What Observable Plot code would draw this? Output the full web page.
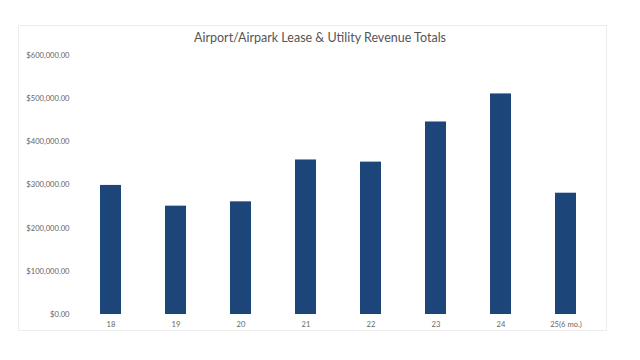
<!DOCTYPE html>
<html>
<head>
<meta charset="utf-8">
<script src="https://cdn.jsdelivr.net/npm/d3@7"></script>
<script src="https://cdn.jsdelivr.net/npm/@observablehq/plot@0.6"></script>
<style>
  html, body { margin: 0; padding: 0; background: #fff; }
  #wrap { position: relative; width: 640px; height: 360px; overflow: hidden; font-family: Lato, "Open Sans", sans-serif; }
  #frame { position: absolute; left: 18px; top: 25px; width: 589px; height: 306px; border: 1px solid #ececec; box-sizing: border-box; }
  #title { position: absolute; left: 0; width: 640px; top: 30px; text-align: center; font-size: 12.5px; color: #555; }
  #chart { position: absolute; left: 0; top: 45px; }
</style>
</head>
<body>
<div id="wrap">
  <div id="frame"></div>
  <div id="title">Airport/Airpark Lease &amp; Utility Revenue Totals</div>
  <div id="chart"></div>
</div>
<script>
const years = ["18", "19", "20", "21", "22", "23", "24", "25(6 mo.)"];
const revenue = [299000, 251000, 261000, 358000, 353000, 446000, 511000, 281000];
const yTicks = [0, 100000, 200000, 300000, 400000, 500000, 600000];

const data = years.map((y, i) => ({year: y, value: revenue[i]}));

const chart = Plot.plot({
  width: 640,
  height: 300,
  marginLeft: 78,
  marginRight: 42,
  marginTop: 10,
  marginBottom: 31,
  style: { fontFamily: "Lato, 'Open Sans', sans-serif", fontSize: "7.6px", color: "#666", background: "transparent" },
  x: { domain: years, paddingInner: 0.68, paddingOuter: 0.34, label: null, tickSize: 0, tickPadding: 7 },
  y: { domain: [0, 600000], ticks: yTicks, tickFormat: d3.format("$,.2f"), label: null, tickSize: 0, tickPadding: 9 },
  marks: [
    Plot.gridY(yTicks, { stroke: "#e4e4e4", strokeOpacity: 1, x1: 78, x2: 598 }),
    Plot.barY(data, { x: "year", y: "value", fill: "#1c4679" })
  ]
});
document.getElementById("chart").appendChild(chart);
</script>
</body>
</html>
